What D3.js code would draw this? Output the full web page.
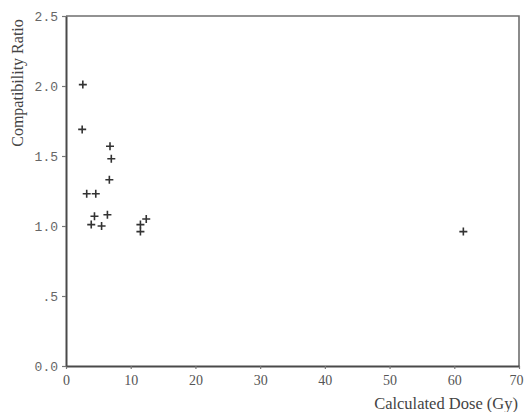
<!DOCTYPE html>
<html>
<head>
<meta charset="utf-8">
<script src="https://cdn.jsdelivr.net/npm/d3@7"></script>
<style>
html,body{margin:0;padding:0;background:#fff;}
svg{display:block;}
</style>
</head>
<body>
<svg id="chart" width="524" height="412"></svg>
<script>
// Data
const dose  = [2.6, 2.5, 6.8, 7.0, 6.7, 3.2, 4.6, 4.4, 6.4, 3.9, 5.5, 12.4, 11.5, 11.5, 61.4];
const ratio = [2.01, 1.69, 1.57, 1.48, 1.33, 1.23, 1.23, 1.07, 1.08, 1.01, 1.00, 1.05, 1.01, 0.96, 0.96];
const xTicks = [0, 10, 20, 30, 40, 50, 60, 70];
const yTicks = [0, 0.5, 1.0, 1.5, 2.0, 2.5];
const yTickLabels = ["0.0", ".5", "1.0", "1.5", "2.0", "2.5"];
const xTitle = "Calculated Dose (Gy)";
const yTitle = "Compatibility Ratio";

const svg = d3.select("#chart");
const mLeft = 66, mRight = 519, mTop = 16, mBottom = 366;

const x = d3.scaleLinear().domain([0, 70]).range([mLeft, mRight]);
const y = d3.scaleLinear().domain([0, 2.5]).range([mBottom, mTop]);

// frame (top and right)
svg.append("path")
  .attr("d", `M${x(0)},${y(2.5)}H${x(70)}V${y(0)}`)
  .attr("fill", "none").attr("stroke", "#6f6f6f").attr("stroke-width", 1.6);

// x axis
const gx = svg.append("g").attr("transform", `translate(0,${mBottom})`)
  .call(d3.axisBottom(x).tickValues(xTicks).tickSize(3).tickSizeOuter(0).tickPadding(6));
gx.select(".domain").attr("stroke", "#4a4a4a").attr("stroke-width", 2);
gx.selectAll(".tick line").attr("stroke", "#777").attr("stroke-width", 1.2);
gx.selectAll(".tick text").attr("font-family", "Liberation Serif").attr("font-size", 14).attr("fill", "#555")
  .attr("dx", d => d === 70 ? -3 : 0);

// y axis
const gy = svg.append("g").attr("transform", `translate(${mLeft},0)`)
  .call(d3.axisLeft(y).tickValues(yTicks).tickSize(4).tickSizeOuter(0).tickPadding(4)
    .tickFormat((d, i) => yTickLabels[i]));
gy.select(".domain").attr("stroke", "#4a4a4a").attr("stroke-width", 2);
gy.selectAll(".tick line").attr("stroke", "#777").attr("stroke-width", 1.2);
gy.selectAll(".tick text").attr("font-family", "Liberation Mono").attr("font-size", 13).attr("fill", "#666");

// titles
svg.append("text")
  .attr("x", 518).attr("y", 409).attr("text-anchor", "end")
  .attr("font-family", "Liberation Serif").attr("font-size", 16.5).attr("fill", "#444")
  .text(xTitle);
svg.append("text")
  .attr("transform", `translate(23,83) rotate(-90)`).attr("text-anchor", "middle")
  .attr("font-family", "Liberation Serif").attr("font-size", 16).attr("fill", "#444")
  .text(yTitle);

// plus markers
const pts = dose.map((d, i) => ({ d, r: ratio[i] }));
svg.append("g").selectAll("path").data(pts).join("path")
  .attr("d", p => `M${x(p.d) - 4},${y(p.r)}H${x(p.d) + 4}M${x(p.d)},${y(p.r) - 4}V${y(p.r) + 4}`)
  .attr("stroke", "#333").attr("stroke-width", 1.6).attr("fill", "none");
</script>
</body>
</html>
